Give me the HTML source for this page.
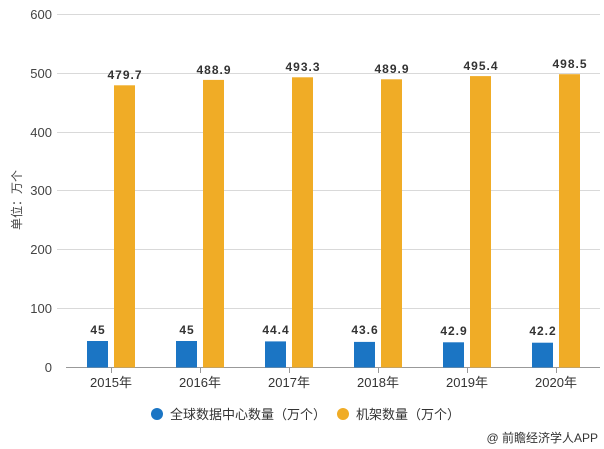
<!DOCTYPE html>
<html><head><meta charset="utf-8"><style>
html,body{margin:0;padding:0;background:#fff;}
svg{display:block;font-family:"Liberation Sans","Noto Sans CJK SC",sans-serif;}
</style></head><body>
<svg width="604" height="449" viewBox="0 0 604 449" xmlns="http://www.w3.org/2000/svg">
<g stroke="#d9d9d9" stroke-width="1">
<line x1="57" x2="600" y1="14.5" y2="14.5"/>
<line x1="57" x2="600" y1="73.5" y2="73.5"/>
<line x1="57" x2="600" y1="132.5" y2="132.5"/>
<line x1="57" x2="600" y1="190.5" y2="190.5"/>
<line x1="57" x2="600" y1="249.5" y2="249.5"/>
<line x1="57" x2="600" y1="308.5" y2="308.5"/>
</g>
<line x1="66" x2="600" y1="367.5" y2="367.5" stroke="#999"/>
<g stroke="#999">
<line x1="111.5" x2="111.5" y1="367" y2="373"/>
<line x1="200.5" x2="200.5" y1="367" y2="373"/>
<line x1="289.5" x2="289.5" y1="367" y2="373"/>
<line x1="378.5" x2="378.5" y1="367" y2="373"/>
<line x1="467.5" x2="467.5" y1="367" y2="373"/>
<line x1="556.5" x2="556.5" y1="367" y2="373"/>
</g>
<g font-size="13" fill="#444" text-anchor="end">
<text x="52" y="19">600</text><text x="52" y="78">500</text><text x="52" y="137">400</text>
<text x="52" y="195">300</text><text x="52" y="254">200</text><text x="52" y="313">100</text><text x="52" y="372">0</text>
</g>
<text transform="translate(21,200) rotate(-90)" font-size="12" fill="#444" text-anchor="middle">单位：万个</text>
<g font-size="13" fill="#333" text-anchor="middle">
<text x="111" y="387">2015年</text><text x="200" y="387">2016年</text><text x="289" y="387">2017年</text>
<text x="378" y="387">2018年</text><text x="467" y="387">2019年</text><text x="556" y="387">2020年</text>
</g>
<g fill="#1b75c4">
<rect x="87" y="341" width="21" height="26.5"/>
<rect x="176" y="341" width="21" height="26.5"/>
<rect x="265" y="341.4" width="21" height="26.1"/>
<rect x="354" y="341.9" width="21" height="25.6"/>
<rect x="443" y="342.3" width="21" height="25.2"/>
<rect x="532" y="342.7" width="21" height="24.8"/>
</g>
<g fill="#f0ac26">
<rect x="114" y="85.3" width="21" height="282.2"/>
<rect x="203" y="79.9" width="21" height="287.6"/>
<rect x="292" y="77.3" width="21" height="290.2"/>
<rect x="381" y="79.3" width="21" height="288.2"/>
<rect x="470" y="76.1" width="21" height="291.4"/>
<rect x="559" y="74.2" width="21" height="293.3"/>
</g>
<g font-size="12" font-weight="bold" fill="#333" text-anchor="middle" letter-spacing="1">
<text x="98" y="334">45</text><text x="187" y="334">45</text><text x="276" y="334">44.4</text>
<text x="365" y="334">43.6</text><text x="454" y="335">42.9</text><text x="543" y="335">42.2</text>
<text x="125" y="79">479.7</text><text x="214" y="74">488.9</text><text x="303" y="71">493.3</text>
<text x="392" y="73">489.9</text><text x="481" y="70">495.4</text><text x="570" y="68">498.5</text>
</g>
<circle cx="157" cy="414" r="6" fill="#1b75c4"/>
<text x="170" y="419" font-size="13" fill="#333">全球数据中心数量（万个）</text>
<circle cx="343" cy="414" r="6" fill="#f0ac26"/>
<text x="356" y="419" font-size="13" fill="#333">机架数量（万个）</text>
<text x="598" y="442" font-size="12" fill="#333" text-anchor="end">@ 前瞻经济学人APP</text>
</svg>
</body></html>
